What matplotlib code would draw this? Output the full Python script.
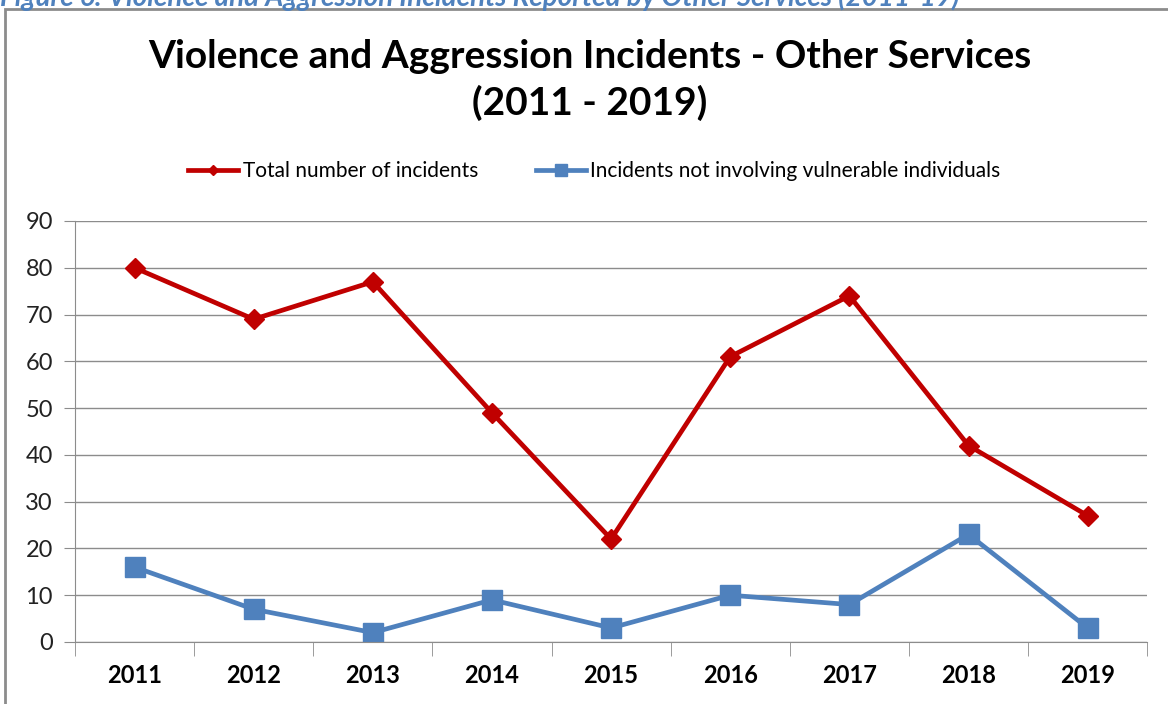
import matplotlib.pyplot as plt
from matplotlib.patches import Rectangle

years = ["2011", "2012", "2013", "2014", "2015", "2016", "2017", "2018", "2019"]
total_incidents = [80, 69, 77, 49, 22, 61, 74, 42, 27]
not_vulnerable = [16, 7, 2, 9, 3, 10, 8, 23, 3]
y_ticks = [0, 10, 20, 30, 40, 50, 60, 70, 80, 90]

red = "#C00000"
blue = "#4F81BD"
plt.rcParams["font.family"] = ["Lato", "DejaVu Sans"]

fig = plt.figure(figsize=(11.68, 7.04), dpi=100)

# frame around the chart
fig.patches.append(Rectangle((0.0043, -0.05), 1.2, 1.037, transform=fig.transFigure,
                             fill=False, edgecolor="#8c8c8c", linewidth=2))
# caption above the chart (cut off by the page edge, as in the source)
fig.text(0.0, 1.004, "Figure 6: Violence and Aggression Incidents Reported by Other Services (2011-19)",
         color=blue, fontsize=20, fontweight="bold", fontstyle="italic", ha="left", va="center")

ax = fig.add_axes([0.0642, 0.0881, 0.918, 0.598])
x = range(len(years))
ax.plot(x, total_incidents, color=red, linewidth=3.4, marker="D", markersize=10,
        label="Total number of incidents")
ax.plot(x, not_vulnerable, color=blue, linewidth=3.4, marker="s", markersize=14,
        label="Incidents not involving vulnerable individuals")

ax.set_xlim(-0.5, len(years) - 0.5)
ax.set_ylim(0, 90)
ax.set_yticks(y_ticks)
ax.set_yticklabels([str(v) for v in y_ticks], fontsize=17, color="#222222")
ax.set_xticks(x)
ax.set_xticklabels(years, fontsize=17, fontweight="bold")
ax.set_xticks([i - 0.5 for i in range(len(years) + 1)], minor=True)
ax.tick_params(axis="x", which="major", length=0, pad=16)
ax.tick_params(axis="x", which="minor", length=10, color="#8c8c8c", direction="out")
ax.tick_params(axis="y", length=8, color="#8c8c8c", pad=8)
ax.grid(axis="y", color="#8c8c8c", linewidth=1)
ax.set_axisbelow(True)
for s in ["top", "right"]:
    ax.spines[s].set_visible(False)
ax.spines["left"].set_color("#8c8c8c")
ax.spines["bottom"].set_color("#8c8c8c")

fig.text(0.505, 0.886, "Violence and Aggression Incidents - Other Services\n(2011 - 2019)",
         ha="center", va="center", fontsize=28, fontweight="bold", linespacing=1.35)

handles, labels = ax.get_legend_handles_labels()
leg = fig.legend(handles, labels, loc="center", bbox_to_anchor=(0.509, 0.757), ncol=2,
                 frameon=False, fontsize=15, handlelength=2.4, handletextpad=0.2,
                 columnspacing=2.8)
leg.legend_handles[0].set_markersize(5)
leg.legend_handles[1].set_markersize(9)

fig.savefig("out.png", dpi=100)
